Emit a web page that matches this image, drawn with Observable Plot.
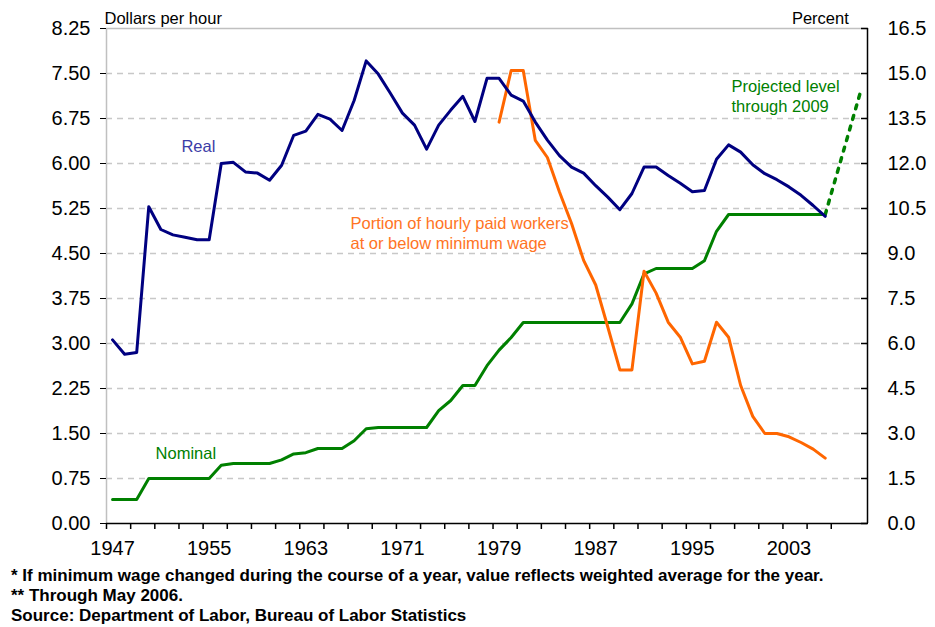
<!DOCTYPE html>
<html>
<head>
<meta charset="utf-8">
<script src="https://cdn.jsdelivr.net/npm/d3@7"></script>
<script src="https://cdn.jsdelivr.net/npm/@observablehq/plot@0.6"></script>
<style>
  html, body { margin: 0; padding: 0; background: #fff; }
  #wrap { position: relative; width: 935px; height: 627px; font-family: "Liberation Sans", Arial, sans-serif; }
  #notes { position: absolute; left: 11px; top: 566px; font-weight: bold; font-size: 17px; line-height: 20px; color: #000; white-space: nowrap; }
</style>
</head>
<body>
<div id="wrap">
  <div id="chart"></div>
  <div id="notes"></div>
</div>
<script>
// ---- Data ----
const years = d3.range(1947, 2007);
const realWage = [3.06,2.82,2.85,5.28,4.90,4.81,4.77,4.73,4.73,6.00,
                  6.02,5.86,5.84,5.72,5.97,6.47,6.54,6.82,6.74,6.55,
                  7.05,7.71,7.49,7.17,6.84,6.64,6.24,6.64,6.89,7.12,
                  6.70,7.42,7.42,7.14,7.04,6.69,6.39,6.13,5.94,5.84,
                  5.63,5.44,5.23,5.50,5.94,5.94,5.80,5.67,5.53,5.55,
                  6.07,6.31,6.19,5.98,5.83,5.73,5.61,5.47,5.30,5.12];
const nominalWage = [0.40,0.40,0.40,0.75,0.75,0.75,0.75,0.75,0.75,0.97,
                     1.00,1.00,1.00,1.00,1.06,1.16,1.18,1.25,1.25,1.25,
                     1.38,1.58,1.60,1.60,1.60,1.60,1.60,1.88,2.05,2.30,
                     2.30,2.63,2.89,3.10,3.35,3.35,3.35,3.35,3.35,3.35,
                     3.35,3.35,3.35,3.66,4.16,4.25,4.25,4.25,4.25,4.38,
                     4.87,5.15,5.15,5.15,5.15,5.15,5.15,5.15,5.15,5.15];
const projYears = [2006, 2007, 2008, 2009];
const projWage = [5.15, 5.85, 6.55, 7.25];
const pctYears = d3.range(1979, 2007);
const pctAtOrBelow = [13.38,15.10,15.10,12.77,12.20,11.05,10.00,8.77,7.95,6.55,
                      5.12,5.12,8.41,7.68,6.71,6.21,5.32,5.41,6.71,6.21,
                      4.60,3.57,3.00,3.00,2.89,2.70,2.48,2.18];

const xTickLabels = [1947, 1955, 1963, 1971, 1979, 1987, 1995, 2003];
const leftTicks = [0,0.75,1.5,2.25,3,3.75,4.5,5.25,6,6.75,7.5,8.25];
const rightTicks = [0,1.5,3,4.5,6,7.5,9,10.5,12,13.5,15,16.5];
const leftTitle = "Dollars per hour";
const rightTitle = "Percent";
const footnotes = [
  "* If minimum wage changed during the course of a year, value reflects weighted average for the year.",
  "** Through May 2006.",
  "Source: Department of Labor, Bureau of Labor Statistics"
];
// annotation anchors (year, dollars)
const annotations = [
  {text: "Real", year: 1952.7, value: 6.19, color: "#3c3ca6"},
  {text: "Nominal", year: 1950.56, value: 1.08, color: "#008000"},
  {text: "Portion of hourly paid workers\nat or below minimum wage", year: 1966.7, value: 4.58, color: "#ff7424"},
  {text: "Projected level\nthrough 2009", year: 1998.24, value: 6.86, color: "#008000"}
];

// ---- Build tables ----
const realData = years.map((y, i) => ({year: y, v: realWage[i]}));
const nomData = years.map((y, i) => ({year: y, v: nominalWage[i]}));
const projData = projYears.map((y, i) => ({year: y, v: projWage[i]}));
const pctData = pctYears.map((y, i) => ({year: y, v: pctAtOrBelow[i] / 2}));

const xDomain = [years[0] - 0.5, projYears[projYears.length - 1] + 0.5];
const yDomain = [0, leftTicks[leftTicks.length - 1]];
const boundaryTicks = d3.range(xDomain[0], xDomain[1] - 1, 2);
const gridTicks = leftTicks.slice(1, -1);

const chart = Plot.plot({
  width: 935,
  height: 565,
  marginLeft: 106,
  marginRight: 68,
  marginTop: 28,
  marginBottom: 42,
  style: {fontFamily: "'Liberation Sans', Arial, sans-serif", background: "#fff", color: "#000", overflow: "visible"},
  x: {type: "linear", domain: xDomain},
  y: {domain: yDomain},
  marks: [
    Plot.gridY(gridTicks, {stroke: "#c8c8c8", strokeOpacity: 1, strokeWidth: 1.3, strokeDasharray: "6,5"}),
    Plot.ruleY([yDomain[1]], {stroke: "#c0c0c0", strokeWidth: 1.5}),
    Plot.ruleX([xDomain[0]], {stroke: "#c0c0c0", strokeWidth: 1.5}),
    Plot.axisY(leftTicks, {anchor: "left", tickSize: 6, tickPadding: 10, tickFormat: d => d.toFixed(2), fontSize: 20, label: null, stroke: "#000"}),
    Plot.axisY(rightTicks.map(d => d / 2), {anchor: "right", tickSize: 7, insetRight: 7, fill: "none", stroke: "#000", strokeWidth: 1.5, label: null}),
    Plot.text(rightTicks, {y: d => d / 2, text: d => d.toFixed(1), frameAnchor: "right", textAnchor: "start", dx: 20, fontSize: 20, fill: "#000"}),
    Plot.ruleX([xDomain[1]], {stroke: "#000", strokeWidth: 1.5}),
    Plot.axisX(boundaryTicks, {anchor: "bottom", tickSize: 6, fill: "none", stroke: "#000", strokeWidth: 1.5, label: null}),
    Plot.axisX(xTickLabels, {anchor: "bottom", tickSize: 0, tickPadding: 17, tickFormat: d => String(d), fontSize: 20, label: null}),
    Plot.ruleY([0], {stroke: "#000", strokeWidth: 1.5}),
    Plot.line(nomData, {x: "year", y: "v", stroke: "#008000", strokeWidth: 3}),
    Plot.line(projData, {x: "year", y: "v", stroke: "#008000", strokeWidth: 3.5, strokeDasharray: "4,7"}),
    Plot.line(pctData, {x: "year", y: "v", stroke: "#ff6600", strokeWidth: 3}),
    Plot.line(realData, {x: "year", y: "v", stroke: "#000080", strokeWidth: 3}),
    Plot.text(annotations, {x: "year", y: "value", text: "text", fill: d => d.color, textAnchor: "start", lineAnchor: "bottom", lineHeight: 1.18, fontSize: 16.5}),
    Plot.text([leftTitle], {frameAnchor: "top-left", textAnchor: "start", lineAnchor: "bottom", dx: -2, dy: -4.7, fontSize: 16.5, fill: "#000"}),
    Plot.text([rightTitle], {frameAnchor: "top-right", textAnchor: "end", lineAnchor: "bottom", dx: -18.7, dy: -4.7, fontSize: 16.5, fill: "#000"})
  ]
});
document.getElementById("chart").appendChild(chart);
document.getElementById("notes").innerHTML = footnotes.map(t => `<div>${t}</div>`).join("");
</script>
</body>
</html>
